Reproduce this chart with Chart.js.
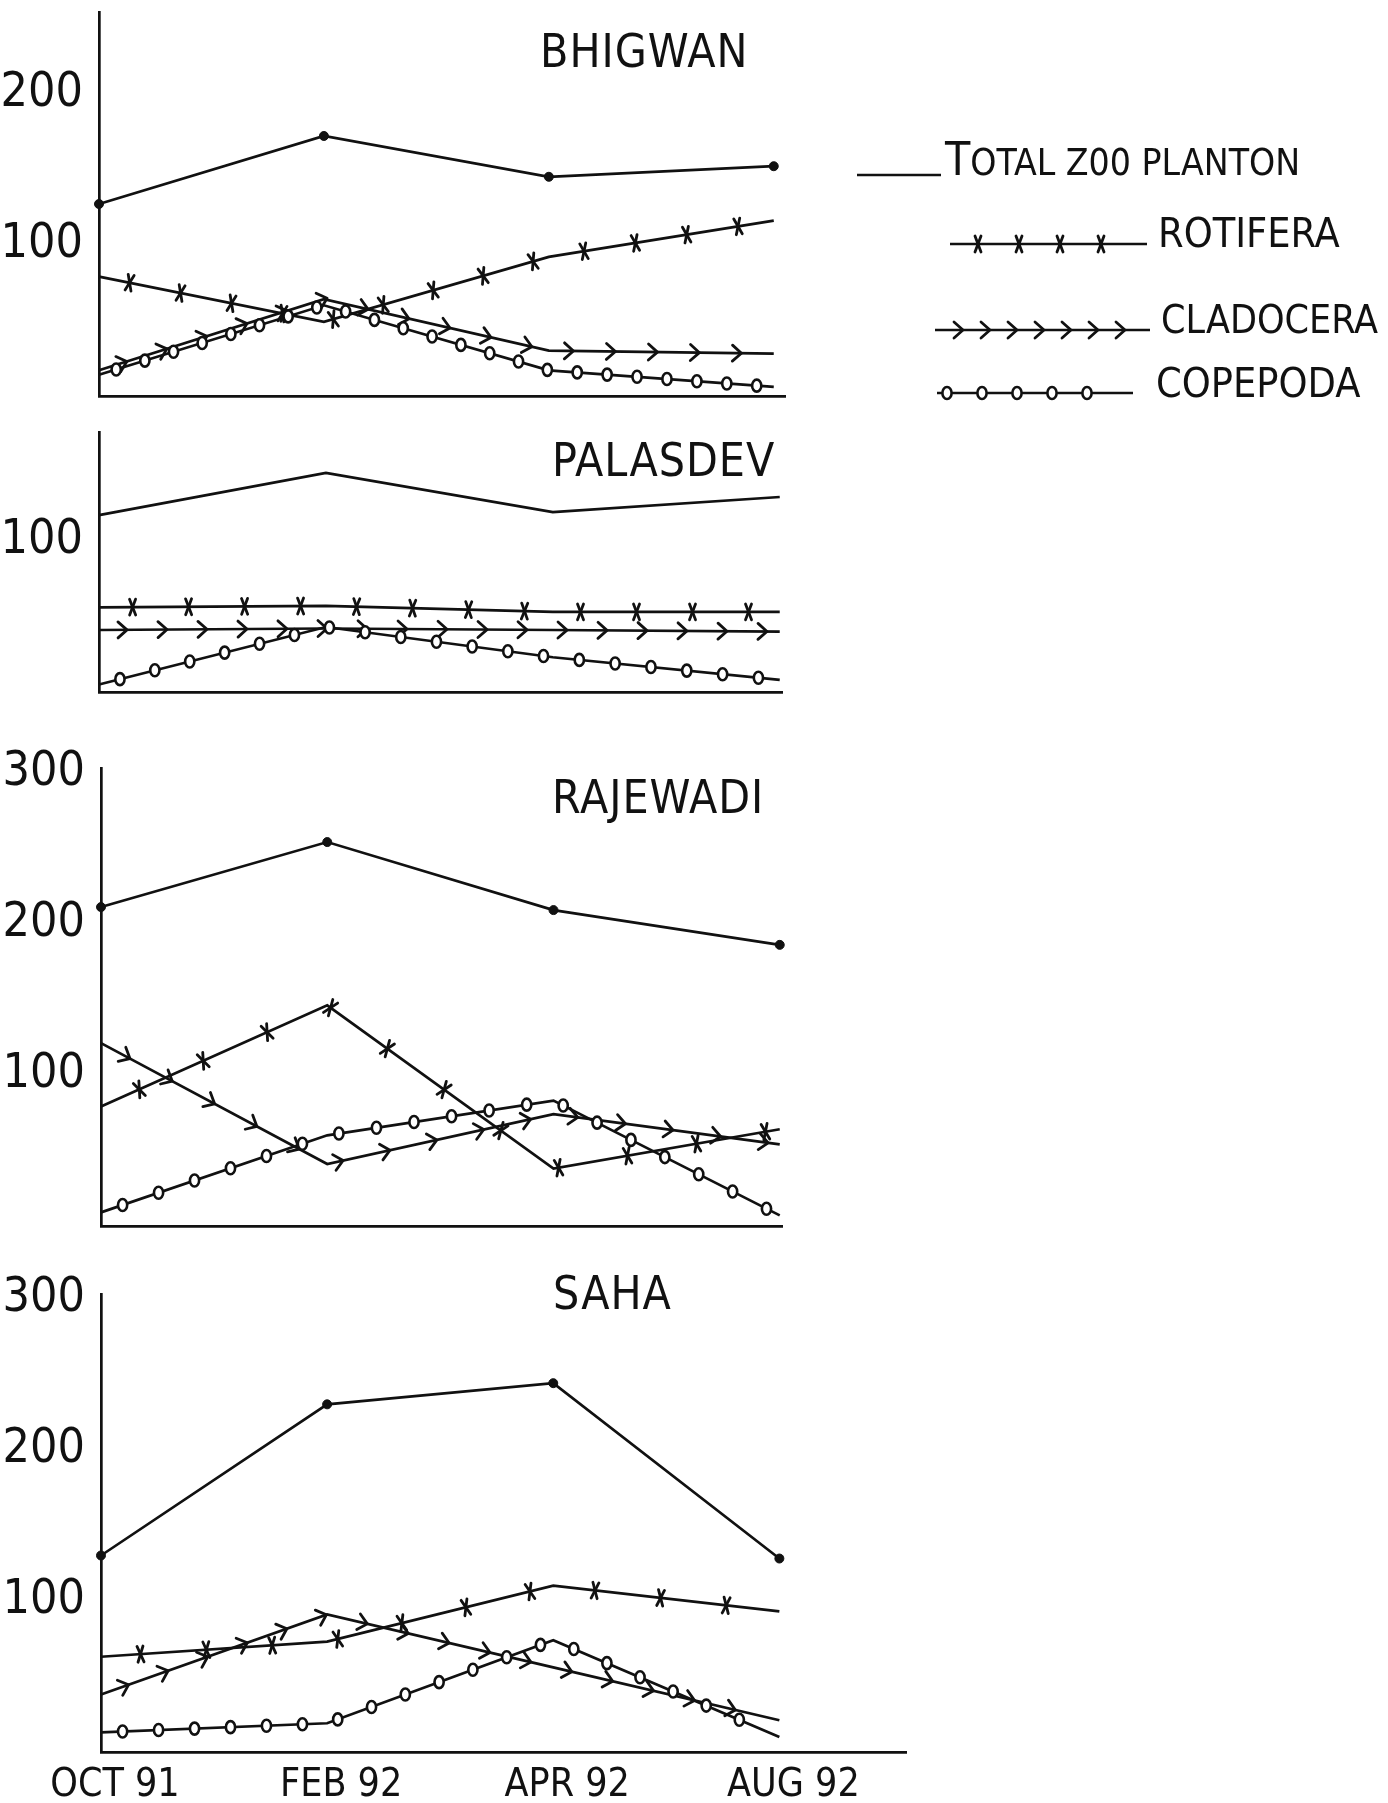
<!DOCTYPE html>
<html>
<head>
<meta charset="utf-8">
<script src="https://cdn.jsdelivr.net/npm/chart.js@4.4.1/dist/chart.umd.min.js"></script>
<style>
  html, body { margin: 0; padding: 0; background: #fff; }
  body { width: 1388px; height: 1803px; position: relative; overflow: hidden;
         font-family: 'DejaVu Sans Condensed', 'Liberation Sans Narrow', 'DejaVu Sans', sans-serif; color: #111; }
  canvas { position: absolute; left: 0; }
  .title { position: absolute; font-size: 46px; line-height: 1; letter-spacing: 1px; white-space: nowrap; }
  .leg { position: absolute; font-size: 41px; line-height: 1; white-space: nowrap; }
  .leg.total { font-size: 37px; }
  .leg .big { font-size: 46px; line-height: 0; }
  #legendMarks { left: 840px; top: 130px; }
</style>
</head>
<body>
<canvas id="c1"></canvas>
<canvas id="c2"></canvas>
<canvas id="c3"></canvas>
<canvas id="c4"></canvas>
<canvas id="legendMarks" width="548" height="300"></canvas>

<div class="title" style="left:540px;top:28px">BHIGWAN</div>
<div class="title" style="left:552px;top:437px">PALASDEV</div>
<div class="title" style="left:552px;top:774px">RAJEWADI</div>
<div class="title" style="left:553px;top:1270px">SAHA</div>

<div class="leg total" style="left:945px;top:144px"><span class="big">T</span>OTAL Z00 PLANTON</div>
<div class="leg" style="left:1158px;top:213px">ROTIFERA</div>
<div class="leg" style="left:1161px;top:300px;font-size:39px">CLADOCERA</div>
<div class="leg" style="left:1156px;top:363px">COPEPODA</div>

<script>
// Sampling months (x axis of the bottom panel)
const months = ['OCT 91', 'FEB 92', 'APR 92', 'AUG 92'];
// Labelled values on the count axes
const yTickValues = [100, 200, 300];

// Counts per station, one value per month
const bhigwanTotal     = [127, 172, 145, 152];
const bhigwanRotifera  = [79, 49, 92, 116];
const bhigwanCladocera = [17, 64, 30, 28];
const bhigwanCopepoda  = [14, 60, 17, 6];

const palasdevTotal     = [117, 145, 119, 129];
const palasdevRotifera  = [56, 57, 53, 53];
const palasdevCladocera = [41, 42, 41, 40];
const palasdevCopepoda  = [5, 43, 23, 8];

const rajewadiTotal     = [211, 254, 209, 186];
const rajewadiRotifera  = [79, 146, 38, 64];
const rajewadiCladocera = [121, 41, 74, 54];
const rajewadiCopepoda  = [9, 60, 83, 7];

const sahaTotal     = [130, 230, 244, 128];
const sahaRotifera  = [63, 73, 110, 93];
const sahaCladocera = [38, 91, 56, 21];
const sahaCopepoda  = [13, 19, 74, 10];

const ink = '#111';
const FONT = "'DejaVu Sans Condensed', 'Liberation Sans Narrow', 'DejaVu Sans', sans-serif";
const LW = 2.7;

// Small symbols that run along a line: asterisks, arrow heads, open rings
function drawMarker(ctx, kind, x, y, ang) {
  ctx.save();
  ctx.translate(x, y);
  ctx.rotate(ang);
  ctx.strokeStyle = ink;
  ctx.lineWidth = 2.8;
  ctx.lineCap = 'round';
  ctx.lineJoin = 'round';
  if (kind === 'star') {
    for (const a of [Math.PI / 2.6, -Math.PI / 2.6]) {
      ctx.beginPath();
      ctx.moveTo(-8.5 * Math.cos(a), -8.5 * Math.sin(a));
      ctx.lineTo(8.5 * Math.cos(a), 8.5 * Math.sin(a));
      ctx.stroke();
    }
  } else if (kind === 'chevron') {
    ctx.beginPath();
    ctx.moveTo(-5, -8);
    ctx.lineTo(4, 0);
    ctx.lineTo(-5, 8);
    ctx.stroke();
  } else if (kind === 'ring') {
    ctx.lineWidth = 2.6;
    ctx.beginPath();
    ctx.ellipse(0, 0, 4.6, 6, -ang, 0, Math.PI * 2);
    ctx.fillStyle = '#fff';
    ctx.fill();
    ctx.stroke();
  }
  ctx.restore();
}

// Walk along a polyline and put a symbol every `gap` pixels
function decorate(ctx, pts, kind, first, gap, last) {
  const segs = [];
  let total = 0;
  for (let k = 0; k < pts.length - 1; k++) {
    const a = pts[k], b = pts[k + 1];
    const len = Math.hypot(b.x - a.x, b.y - a.y);
    segs.push({ a, b, len, start: total });
    total += len;
  }
  for (let s = first; s <= total - last; s += gap) {
    const seg = segs.find(g => s >= g.start && s <= g.start + g.len) || segs[segs.length - 1];
    const t = (s - seg.start) / seg.len;
    const x = seg.a.x + (seg.b.x - seg.a.x) * t;
    const y = seg.a.y + (seg.b.y - seg.a.y) * t;
    drawMarker(ctx, kind, x, y, Math.atan2(seg.b.y - seg.a.y, seg.b.x - seg.a.x));
  }
}

const decorPlugin = {
  id: 'decor',
  afterDatasetsDraw(chart) {
    const ctx = chart.ctx;
    chart.data.datasets.forEach((ds, i) => {
      if (!ds.decor) return;
      const pts = chart.getDatasetMeta(i).data.map(p => ({ x: p.x, y: p.y }));
      decorate(ctx, pts, ds.decor.kind, ds.decor.first, ds.decor.gap, ds.decor.last);
    });
  }
};

function toPoints(values) {
  return values.map((v, i) => ({ x: i, y: v }));
}

// Each panel canvas keeps a 50px margin above and below its plot area
const MARGIN = 50;

function makePanel(id, cfg) {
  const cv = document.getElementById(id);
  const top = cfg.areaTop - MARGIN;
  const height = cfg.canvasBottom ? cfg.canvasBottom - top : (cfg.areaBottom + MARGIN) - top;
  const padBottom = height - (cfg.areaBottom - top) - cfg.xAxisH;
  cv.width = cfg.width;
  cv.height = height;
  cv.style.top = top + 'px';
  const lineBase = { borderColor: ink, borderWidth: LW, tension: 0, pointRadius: 0, clip: false, fill: false };
  new Chart(cv, {
    type: 'line',
    data: {
      datasets: [
        Object.assign({}, lineBase, { label: 'TOTAL Z00 PLANTON', data: toPoints(cfg.total),
          pointRadius: cfg.dots ? 4.5 : 0, pointBackgroundColor: ink, pointBorderColor: ink, pointBorderWidth: 1 }),
        Object.assign({}, lineBase, { label: 'ROTIFERA', data: toPoints(cfg.rot),
          decor: { kind: 'star', first: cfg.gaps[0] * 0.6, gap: cfg.gaps[0], last: 10 } }),
        Object.assign({}, lineBase, { label: 'CLADOCERA', data: toPoints(cfg.cla),
          decor: { kind: 'chevron', first: cfg.gaps[1] * 0.6, gap: cfg.gaps[1], last: 10 } }),
        Object.assign({}, lineBase, { label: 'COPEPODA', data: toPoints(cfg.cop),
          decor: { kind: 'ring', first: cfg.gaps[2] * 0.6, gap: cfg.gaps[2], last: 10 } })
      ]
    },
    options: {
      responsive: false,
      animation: false,
      devicePixelRatio: 1,
      layout: { autoPadding: false, padding: { top: MARGIN, right: cfg.width - cfg.areaRight, bottom: padBottom, left: 0 } },
      plugins: { legend: { display: false }, tooltip: { enabled: false } },
      scales: {
        x: {
          type: 'linear', min: 0, max: cfg.xMax,
          grid: { display: false, drawTicks: false },
          border: { display: true, color: ink, width: LW },
          ticks: {
            display: cfg.monthLabels, autoSkip: false, maxRotation: 0,
            padding: 14, labelOffset: 14, color: ink, font: { family: FONT, size: 39, lineHeight: 1 },
            callback: v => (months[v] !== undefined ? months[v] : '')
          },
          afterBuildTicks: s => { s.ticks = months.map((m, i) => ({ value: i })); },
          afterFit: s => { s.height = cfg.xAxisH; }
        },
        y: {
          min: 0, max: cfg.yMax,
          grid: { display: false, drawTicks: false },
          border: { display: true, color: ink, width: LW },
          ticks: {
            padding: 16, color: ink, autoSkip: false,
            font: { family: FONT, size: 48, lineHeight: 1 },
            callback: v => String(v)
          },
          afterBuildTicks: s => { s.ticks = yTickValues.filter(v => v <= cfg.yMax).map(v => ({ value: v })); },
          afterFit: s => { s.width = cfg.axisLeft; }
        }
      }
    },
    plugins: [decorPlugin]
  });
}

makePanel('c1', { areaTop: 12, areaBottom: 396, areaRight: 785, width: 820, xAxisH: 4,
  axisLeft: 99, xMax: 3.05, yMax: 254, dots: true, monthLabels: false, gaps: [52, 42, 30],
  total: bhigwanTotal, rot: bhigwanRotifera, cla: bhigwanCladocera, cop: bhigwanCopepoda });

makePanel('c2', { areaTop: 432, areaBottom: 692, areaRight: 782, width: 820, xAxisH: 4,
  axisLeft: 99, xMax: 3.01, yMax: 172, dots: false, monthLabels: false, gaps: [56, 40, 36],
  total: palasdevTotal, rot: palasdevRotifera, cla: palasdevCladocera, cop: palasdevCopepoda });

makePanel('c3', { areaTop: 768, areaBottom: 1226, areaRight: 782, width: 820, xAxisH: 4,
  axisLeft: 101, xMax: 3.01, yMax: 303, dots: true, monthLabels: false, gaps: [70, 48, 38],
  total: rajewadiTotal, rot: rajewadiRotifera, cla: rajewadiCladocera, cop: rajewadiCopepoda });

makePanel('c4', { areaTop: 1294, areaBottom: 1752, canvasBottom: 1803, areaRight: 906, width: 920, xAxisH: 50,
  axisLeft: 101, xMax: 3.56, yMax: 303, dots: true, monthLabels: true, gaps: [66, 42, 36],
  total: sahaTotal, rot: sahaRotifera, cla: sahaCladocera, cop: sahaCopepoda });

// Legend samples, drawn in page coordinates shifted by the canvas offset
(function drawLegend() {
  const cv = document.getElementById('legendMarks');
  const ctx = cv.getContext('2d');
  const ox = 840, oy = 130;
  const rows = [
    { x0: 857, x1: 941, y: 175, kind: null },
    { x0: 950, x1: 1147, y: 244, kind: 'star', first: 28, gap: 41, last: 40 },
    { x0: 935, x1: 1150, y: 330, kind: 'chevron', first: 24, gap: 27, last: 26 },
    { x0: 937, x1: 1133, y: 393, kind: 'ring', first: 10, gap: 35, last: 40 }
  ];
  ctx.strokeStyle = ink;
  ctx.lineWidth = LW;
  rows.forEach(r => {
    ctx.beginPath();
    ctx.moveTo(r.x0 - ox, r.y - oy);
    ctx.lineTo(r.x1 - ox, r.y - oy);
    ctx.stroke();
    if (r.kind) {
      decorate(ctx, [{ x: r.x0 - ox, y: r.y - oy }, { x: r.x1 - ox, y: r.y - oy }], r.kind, r.first, r.gap, r.last);
    }
  });
})();
</script>
</body>
</html>
